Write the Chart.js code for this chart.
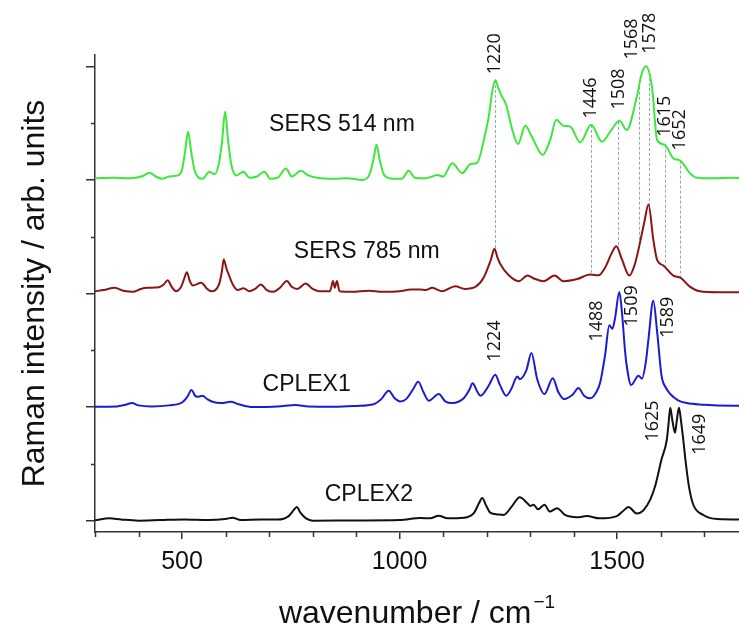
<!DOCTYPE html>
<html>
<head>
<meta charset="utf-8">
<script src="https://cdn.jsdelivr.net/npm/chart.js@4.4.1/dist/chart.umd.min.js"></script>
<style>
  html, body { margin: 0; padding: 0; background: #fff; overflow: hidden; }
  canvas { display: block; }
</style>
</head>
<body>
<canvas id="ramanChart" width="739" height="628"></canvas>
<script>
// spectra: wavenumber (cm-1) and intensity above each baseline
const sers514Wn = [300,340,380,410,425,440,455,470,490,500,507,514,521,530,547,563,575,585,592,599,606,614,625,641,655,672,689,703,720,739,752,773,790,810,850,880,914,930,940,947,954,965,985,1005,1021,1035,1060,1075,1086,1100,1121,1144,1163,1178,1197,1205,1213,1220,1226,1232,1245,1258,1272,1289,1304,1329,1346,1360,1377,1392,1415,1440,1465,1485,1505,1522,1545,1556,1566,1580,1592,1609,1629,1645,1667,1683,1720,1760,1790];
const sers514 = [0.015,0.02,0.015,0.035,0.064,0.03,0.01,0.03,0.04,0.09,0.25,0.425,0.25,0.07,0.01,0.073,0.05,0.15,0.34,0.60,0.34,0.12,0.04,0.073,0.02,0.03,0.073,0.01,0.02,0.10,0.03,0.08,0.04,0.02,0.01,0.015,0.0,0.04,0.18,0.31,0.18,0.04,0.01,0.01,0.08,0.02,0.015,0.03,0.044,0.03,0.147,0.059,0.14,0.15,0.41,0.56,0.78,0.88,0.82,0.76,0.66,0.455,0.317,0.476,0.38,0.22,0.35,0.53,0.476,0.47,0.33,0.485,0.337,0.43,0.52,0.44,0.73,0.93,1.0,0.82,0.35,0.31,0.19,0.17,0.06,0.02,0.015,0.02,0.015];

const sers785Wn = [300,320,345,365,387,405,421,447,458,467,476,486,498,505,511,518,525,544,558,567,585,591,596,602,609,618,628,641,655,668,681,695,710,725,741,752,765,784,800,815,840,847,851,856,862,890,930,960,1000,1025,1048,1060,1075,1098,1128,1150,1175,1193,1210,1218,1225,1232,1251,1274,1294,1310,1331,1356,1377,1408,1438,1457,1472,1488,1498,1511,1528,1540,1549,1562,1572,1583,1592,1606,1629,1646,1667,1690,1740,1790];
const sers785 = [0.02,0.03,0.05,0.025,0.015,0.04,0.05,0.055,0.08,0.117,0.06,0.02,0.06,0.13,0.188,0.11,0.07,0.094,0.04,0.02,0.08,0.18,0.30,0.22,0.15,0.07,0.03,0.046,0.02,0.04,0.08,0.03,0.015,0.05,0.11,0.06,0.04,0.088,0.04,0.02,0.02,0.11,0.05,0.11,0.02,0.015,0.025,0.015,0.02,0.035,0.035,0.03,0.05,0.02,0.064,0.04,0.06,0.138,0.3,0.394,0.315,0.255,0.16,0.108,0.158,0.13,0.108,0.158,0.108,0.127,0.167,0.16,0.226,0.36,0.417,0.30,0.158,0.25,0.388,0.62,0.784,0.476,0.293,0.247,0.158,0.138,0.06,0.02,0.011,0.01];

const cplex1Wn = [300,350,370,385,400,430,470,500,512,522,530,536,547,558,570,590,612,630,662,720,761,790,850,900,940,958,975,988,1002,1015,1030,1043,1055,1067,1090,1105,1121,1148,1160,1168,1178,1186,1205,1220,1230,1245,1258,1266,1271,1276,1291,1303,1316,1333,1352,1365,1378,1398,1411,1424,1438,1452,1461,1472,1482,1489,1495,1505,1511,1518,1522,1532,1549,1557,1566,1572,1583,1592,1602,1612,1622,1640,1660,1700,1721,1790];
const cplex1 = [0.003,0.005,0.02,0.035,0.015,0.005,0.015,0.04,0.09,0.15,0.1,0.09,0.10,0.07,0.047,0.035,0.047,0.025,0.0,0.005,0.018,0.005,0.003,0.01,0.025,0.07,0.144,0.08,0.05,0.07,0.15,0.223,0.13,0.056,0.115,0.05,0.035,0.08,0.15,0.21,0.14,0.1,0.19,0.285,0.2,0.1,0.17,0.247,0.27,0.245,0.32,0.476,0.25,0.115,0.253,0.13,0.07,0.11,0.167,0.1,0.077,0.13,0.217,0.45,0.72,0.69,0.78,1.013,0.834,0.5,0.364,0.194,0.276,0.25,0.4,0.6,0.937,0.658,0.276,0.17,0.115,0.06,0.035,0.02,0.015,0.01];

const cplex2Wn = [300,333,360,400,450,505,560,600,616,635,680,720,745,756,764,772,785,800,900,1000,1048,1070,1090,1110,1148,1171,1182,1190,1198,1209,1225,1239,1258,1276,1293,1300,1308,1318,1333,1345,1362,1380,1408,1430,1460,1499,1515,1526,1545,1560,1576,1587,1602,1614,1618,1622,1627,1633,1637,1642,1647,1652,1658,1665,1675,1698,1730,1790];
const cplex2 = [0.003,0.02,0.01,0.0,0.005,0.01,0.005,0.015,0.026,0.005,0.01,0.01,0.04,0.09,0.12,0.07,0.02,0.0,0.002,0.005,0.024,0.02,0.044,0.02,0.025,0.068,0.15,0.2,0.14,0.068,0.055,0.05,0.126,0.205,0.156,0.13,0.14,0.1,0.14,0.08,0.11,0.05,0.03,0.04,0.02,0.04,0.09,0.12,0.063,0.09,0.185,0.3,0.54,0.71,0.85,0.993,0.88,0.773,0.88,0.993,0.87,0.71,0.5,0.3,0.14,0.05,0.014,0.01];

const names = ["SERS 514 nm", "SERS 785 nm", "CPLEX1", "CPLEX2"];
const offsets = [3, 2, 1, 0];
const colors = ["#3ce83c", "#8b1515", "#1c1ccf", "#111111"];

// where the curve names sit (wavenumber, axis units)
const nameX = [700, 757, 685, 828];
const nameY = [3.49, 2.37, 1.198, 0.229];

// peak labels
const guideX = [1220, 1440, 1503, 1550, 1574, 1609, 1645];
const peakText = ["1220", "1446", "1508", "1568", "1578", "1615", "1652", "1224", "1488", "1509", "1589", "1625", "1649"];
const peakX = [1220, 1440, 1503, 1534, 1576, 1609, 1645, 1218, 1453, 1534, 1617, 1583, 1689];
const peakY = [3.93, 3.54, 3.62, 4.06, 4.11, 3.38, 3.26, 1.40, 1.577, 1.71, 1.61, 0.696, 0.58];

const xMajorTicks = [500, 1000, 1500];
const xMinorTicks = [300, 400, 600, 700, 800, 900, 1100, 1200, 1300, 1400, 1600, 1700];
const yMajorTicks = [0, 1, 2, 3, 4];
const yMinorTicks = [0.5, 1.5, 2.5, 3.5];

const spectra = [[sers514Wn, sers514], [sers785Wn, sers785], [cplex1Wn, cplex1], [cplex2Wn, cplex2]];
const FONT = "'Liberation Sans', Arial, sans-serif";

// linear lookup on a spectrum, used for the guide line ends
function valueAt(wn, vals, x) {
    for (let i = 1; i < wn.length; i++) {
        if (wn[i] >= x) {
            const t = (x - wn[i - 1]) / (wn[i] - wn[i - 1]);
            return vals[i - 1] + t * (vals[i] - vals[i - 1]);
        }
    }
    return vals[vals.length - 1];
}

const decorations = {
    id: "decorations",
    beforeDatasetsDraw(chart) {
        const { ctx, scales: { x, y } } = chart;
        ctx.save();
        ctx.strokeStyle = "#8fa8ba";
        ctx.lineWidth = 1;
        ctx.setLineDash([3, 2]);
        guideX.forEach(g => {
            const px = Math.round(x.getPixelForValue(g)) + 0.5;
            const top = y.getPixelForValue(offsets[0] + valueAt(sers514Wn, sers514, g));
            const bottom = y.getPixelForValue(offsets[1] + valueAt(sers785Wn, sers785, g));
            ctx.beginPath();
            ctx.moveTo(px, top);
            ctx.lineTo(px, bottom);
            ctx.stroke();
        });
        ctx.restore();
    },
    afterDatasetsDraw(chart) {
        const { ctx, scales: { x, y } } = chart;
        ctx.save();
        ctx.fillStyle = "#111";
        // curve names
        ctx.font = "23px " + FONT;
        ctx.textAlign = "left";
        ctx.textBaseline = "middle";
        names.forEach((n, i) => {
            ctx.fillText(n, x.getPixelForValue(nameX[i]), y.getPixelForValue(nameY[i]));
        });
        // rotated peak positions
        ctx.font = "18px 'Open Sans', sans-serif";
        peakText.forEach((t, i) => {
            ctx.save();
            ctx.translate(x.getPixelForValue(peakX[i]), y.getPixelForValue(peakY[i]));
            ctx.rotate(-Math.PI / 2);
            ctx.fillText(t, 0, 0);
            ctx.restore();
        });
        ctx.restore();
    },
    afterDraw(chart) {
        const { ctx, chartArea, scales: { x, y } } = chart;
        ctx.save();
        ctx.strokeStyle = "#333";
        ctx.lineWidth = 1.5;
        // minor ticks
        xMinorTicks.forEach(v => {
            const px = Math.round(x.getPixelForValue(v)) + 0.5;
            ctx.beginPath();
            ctx.moveTo(px, chartArea.bottom);
            ctx.lineTo(px, chartArea.bottom + 5);
            ctx.stroke();
        });
        yMinorTicks.forEach(v => {
            const py = Math.round(y.getPixelForValue(v)) + 0.5;
            ctx.beginPath();
            ctx.moveTo(chartArea.left, py);
            ctx.lineTo(chartArea.left - 4, py);
            ctx.stroke();
        });
        // x axis title with superscript
        const main = "wavenumber / cm";
        const sup = "\u22121";
        ctx.fillStyle = "#111";
        ctx.textBaseline = "alphabetic";
        ctx.textAlign = "left";
        ctx.font = "32px " + FONT;
        const wMain = ctx.measureText(main).width;
        ctx.font = "19px " + FONT;
        const wSup = ctx.measureText(sup).width;
        const cx = (chartArea.left + chartArea.right) / 2;
        const startX = cx - (wMain + wSup + 2) / 2;
        ctx.font = "32px " + FONT;
        ctx.fillText(main, startX, 623);
        ctx.font = "19px " + FONT;
        ctx.fillText(sup, startX + wMain + 2, 608);
        ctx.restore();
    }
};

const ctx = document.getElementById("ramanChart").getContext("2d");
new Chart(ctx, {
    type: "line",
    data: {
        datasets: spectra.map((s, i) => ({
            label: names[i],
            data: s[0].map((w, k) => ({ x: w, y: offsets[i] + s[1][k] })),
            borderColor: colors[i],
            borderWidth: 2,
            pointRadius: 0,
            fill: false,
            cubicInterpolationMode: "monotone"
        }))
    },
    options: {
        responsive: false,
        animation: false,
        devicePixelRatio: 1,
        layout: { padding: { top: 55, left: 0, right: 0, bottom: 0 } },
        plugins: {
            legend: { display: false },
            tooltip: { enabled: false }
        },
        scales: {
            x: {
                type: "linear",
                min: 300,
                max: 1780,
                afterBuildTicks: scale => { scale.ticks = xMajorTicks.map(v => ({ value: v })); },
                afterFit: scale => { scale.height = 96; },
                grid: { drawOnChartArea: false, drawTicks: true, tickLength: 7, color: "#333", lineWidth: 1.5 },
                border: { display: true, color: "#333", width: 1.5 },
                ticks: {
                    callback: v => String(v),
                    font: { size: 25, family: FONT },
                    color: "#111",
                    padding: 8,
                    maxRotation: 0
                }
            },
            y: {
                type: "linear",
                min: -0.1,
                max: 4.1,
                afterBuildTicks: scale => { scale.ticks = yMajorTicks.map(v => ({ value: v })); },
                afterFit: scale => { scale.width = 95; },
                grid: { drawOnChartArea: false, drawTicks: true, tickLength: 9, color: "#333", lineWidth: 1.5 },
                border: { display: true, color: "#333", width: 1.5 },
                ticks: { display: false },
                title: {
                    display: true,
                    text: "Raman intensity / arb. units",
                    font: { size: 32, family: FONT },
                    color: "#111",
                    padding: { top: 16, bottom: 0 }
                }
            }
        }
    },
    plugins: [decorations]
});
</script>
</body>
</html>
